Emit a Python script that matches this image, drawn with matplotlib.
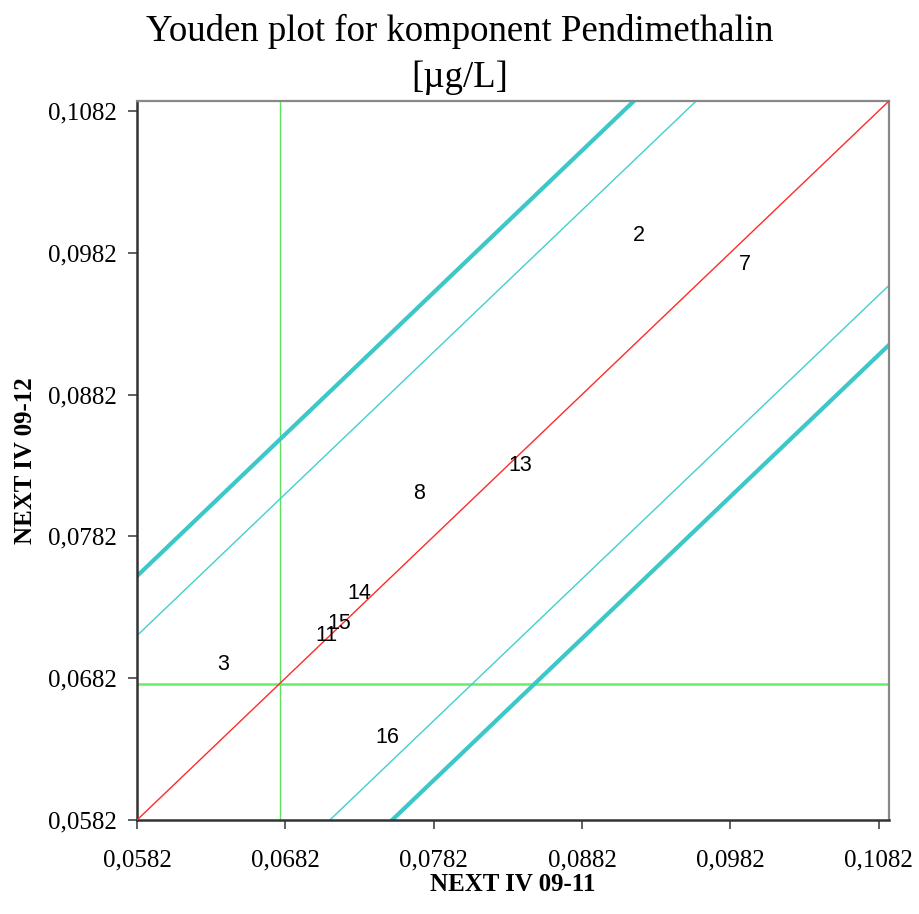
import matplotlib
matplotlib.use("Agg")
import matplotlib.pyplot as plt

# lab results: (x = NEXT IV 09-11, y = NEXT IV 09-12), in ug/L
lab_ids = ["2", "7", "13", "8", "14", "15", "11", "3", "16"]
x_vals = [0.09205, 0.09915, 0.08401, 0.07719, 0.07320, 0.07185, 0.07097, 0.06401, 0.07509]
y_vals = [0.09941, 0.09735, 0.08323, 0.08125, 0.07416, 0.07203, 0.07118, 0.06919, 0.06402]

median_x = 0.06786
median_y = 0.06777
inner_band = 0.0130
outer_band = 0.0172

ticks = [0.0582, 0.0682, 0.0782, 0.0882, 0.0982, 0.1082]
tick_labels = ["0,0582", "0,0682", "0,0782", "0,0882", "0,0982", "0,1082"]
lo, hi = 0.0582, 0.1089

serif = ["Liberation Serif", "DejaVu Serif"]
sans = ["Liberation Sans", "DejaVu Sans"]

fig = plt.figure(figsize=(9.2, 9.14), dpi=100)
ax = fig.add_axes([0.1489, 0.1028, 0.8174, 0.7867])

xs = [lo, hi]
# diagonal and acceptance bands
ax.plot(xs, xs, color="#ff2a2a", lw=1.0, zorder=3)
for off in (inner_band, -inner_band):
    ax.plot(xs, [v + off for v in xs], color="#40d0d0", lw=1.0, zorder=2)
for off in (outer_band, -outer_band):
    ax.plot(xs, [v + off for v in xs], color="#3cc8c8", lw=3.0, zorder=2)

ax.axvline(median_x, color="#5fe05f", lw=1.0, zorder=1)
ax.axhline(median_y, color="#66ee66", lw=1.8, zorder=1)

for lab, x, y in zip(lab_ids, x_vals, y_vals):
    ax.text(x, y, lab, ha="center", va="center", fontsize=15.5, family=sans, zorder=4)

ax.set_xlim(lo, hi)
ax.set_ylim(lo, hi)
ax.set_xticks(ticks)
ax.set_yticks(ticks)
ax.set_xticklabels(tick_labels, family=serif, fontsize=18)
ax.set_yticklabels(tick_labels, family=serif, fontsize=18)
ax.tick_params(direction="out", length=6.5, width=1.2, color="#444444")
ax.tick_params(axis="x", pad=15)
ax.tick_params(axis="y", pad=8)

for side in ("left", "bottom"):
    ax.spines[side].set_color("#333333")
    ax.spines[side].set_linewidth(1.8)
for side in ("top", "right"):
    ax.spines[side].set_color("#888888")
    ax.spines[side].set_linewidth(1.6)

ax.set_xlabel("NEXT IV 09-11", family=serif, fontsize=18, fontweight="bold", labelpad=1)
ax.set_ylabel("NEXT IV 09-12", family=serif, fontsize=18, fontweight="bold", labelpad=8)
fig.suptitle("Youden plot for komponent Pendimethalin\n[\u00b5g/L]", family=serif,
             fontsize=26.5, y=0.985, linespacing=1.45)

fig.savefig("out.png", dpi=100, facecolor="white")
